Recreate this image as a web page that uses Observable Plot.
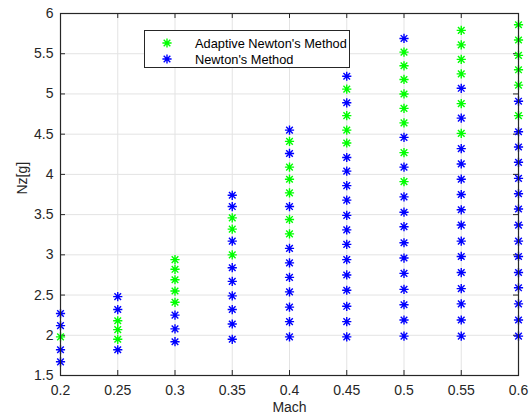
<!DOCTYPE html>
<html>
<head>
<meta charset="utf-8">
<script src="https://cdn.jsdelivr.net/npm/d3@7"></script>
<script src="https://cdn.jsdelivr.net/npm/@observablehq/plot@0.6"></script>
<style>
  html, body { margin: 0; padding: 0; background: #fff; }
  #chart { position: relative; width: 531px; height: 418px; font-family: "Liberation Sans", Arial, Helvetica, sans-serif; }
  #legend { position: absolute; left: 144px; top: 30px; width: 204px; height: 36px; background: #fff; border: 1px solid #262626; font-size: 12.8px; color: #000; }
  #legend .row { position: absolute; left: 0; height: 16px; display: flex; align-items: center; }
  #legend svg { margin-left: 16px; margin-right: 22px; }
</style>
</head>
<body>
<div id="chart">
  <div id="legend"></div>
</div>
<script>
// Mach numbers of the trim sweep
const mach = [0.2, 0.25, 0.3, 0.35, 0.4, 0.45, 0.5, 0.55, 0.6];

// Load factors (Nz, in g) solved by the adaptive Newton scheme, per Mach
const adaptiveNz = [
  [1.98],
  [2.18, 2.07, 1.95],
  [2.94, 2.82, 2.69, 2.55, 2.41],
  [3.46, 3.32, 3.00],
  [4.41, 4.09, 3.94, 3.77, 3.44, 3.26],
  [5.06, 4.73, 4.55, 4.39],
  [5.52, 5.35, 5.18, 5.00, 4.82, 4.64, 4.27, 3.91],
  [5.79, 5.61, 5.43, 5.25, 4.88, 4.51],
  [5.86, 5.67, 5.48, 5.30, 5.11, 4.73]
];

// Load factors solved by the plain Newton scheme, per Mach
const newtonNz = [
  [2.27, 2.12, 1.82, 1.67],
  [2.48, 2.32, 1.82],
  [2.25, 2.08, 1.92],
  [3.74, 3.60, 3.17, 2.84, 2.67, 2.49, 2.32, 2.14, 1.95],
  [4.55, 4.26, 3.60, 3.08, 2.90, 2.72, 2.54, 2.35, 2.17, 1.98],
  [5.22, 4.89, 4.21, 4.04, 3.86, 3.68, 3.49, 3.31, 3.13, 2.94, 2.75, 2.56, 2.36, 2.17, 1.98],
  [5.69, 4.46, 4.09, 3.72, 3.53, 3.35, 3.15, 2.96, 2.77, 2.57, 2.38, 2.19, 1.99],
  [5.07, 4.70, 4.32, 4.13, 3.94, 3.75, 3.56, 3.37, 3.17, 2.98, 2.78, 2.58, 2.39, 2.19, 1.99],
  [4.91, 4.53, 4.34, 4.15, 3.95, 3.76, 3.57, 3.37, 3.17, 2.98, 2.78, 2.59, 2.39, 2.19, 1.99]
];

const xTicks = [0.2, 0.25, 0.3, 0.35, 0.4, 0.45, 0.5, 0.55, 0.6];
const yTicks = [1.5, 2, 2.5, 3, 3.5, 4, 4.5, 5, 5.5, 6];

const seriesNames = ["Adaptive Newton's Method", "Newton's Method"];
const seriesColors = ["#00ff00", "#0000ff"];

const flatten = (cols) => cols.flatMap((vals, i) => vals.map((nz) => ({mach: mach[i], nz})));
const adaptivePts = flatten(adaptiveNz);
const newtonPts = flatten(newtonNz);

// Eight-armed asterisk marker
const asterisk = {
  draw(ctx, size) {
    const r = Math.sqrt(size / Math.PI);
    const d = r * 0.72;
    ctx.moveTo(-r, 0); ctx.lineTo(r, 0);
    ctx.moveTo(0, -r); ctx.lineTo(0, r);
    ctx.moveTo(-d, -d); ctx.lineTo(d, d);
    ctx.moveTo(-d, d); ctx.lineTo(d, -d);
  }
};

const W = 531, H = 418;
const mL = 60, mR = 13, mT = 13, mB = 43;
const plotW = W - mL - mR, plotH = H - mT - mB;
const tickLen = 5;
const ink = "#262626";
const markR = 4.6, markW = 1.4;
const fmt = (d) => String(+d.toFixed(2));

const chart = Plot.plot({
  width: W,
  height: H,
  marginLeft: mL,
  marginRight: mR,
  marginTop: mT,
  marginBottom: mB,
  style: {fontFamily: "'Liberation Sans', Arial, Helvetica, sans-serif", background: "#fff", color: ink},
  x: {domain: [0.2, 0.6]},
  y: {domain: [1.5, 6]},
  marks: [
    Plot.gridX(xTicks, {stroke: "#e3e3e3", strokeOpacity: 1}),
    Plot.gridY(yTicks, {stroke: "#e3e3e3", strokeOpacity: 1}),
    // inward ticks on all four sides
    Plot.tickX(xTicks, {x: (d) => d, stroke: ink, insetTop: plotH - tickLen}),
    Plot.tickX(xTicks, {x: (d) => d, stroke: ink, insetBottom: plotH - tickLen}),
    Plot.tickY(yTicks, {y: (d) => d, stroke: ink, insetRight: plotW - tickLen}),
    Plot.tickY(yTicks, {y: (d) => d, stroke: ink, insetLeft: plotW - tickLen}),
    Plot.axisX(xTicks, {tickSize: 0, tickPadding: 10, tickFormat: fmt, fontSize: 14, fill: ink, label: null}),
    Plot.axisY(yTicks, {tickSize: 0, tickPadding: 7, tickFormat: fmt, fontSize: 14, fill: ink, label: null}),
    Plot.text(["Mach"], {frameAnchor: "bottom", dy: 36, fontSize: 14, fill: ink}),
    Plot.text(["Nz[g]"], {frameAnchor: "left", dx: -38, rotate: -90, fontSize: 14, fill: ink}),
    Plot.dot(newtonPts, {x: "mach", y: "nz", symbol: asterisk, r: markR, stroke: seriesColors[1], strokeWidth: markW, fill: "none"}),
    Plot.dot(adaptivePts, {x: "mach", y: "nz", symbol: asterisk, r: markR, stroke: seriesColors[0], strokeWidth: markW, fill: "none"}),
    Plot.frame({stroke: ink, strokeWidth: 1.2})
  ]
});

const host = document.getElementById("chart");
host.insertBefore(chart, host.firstChild);

// Legend entries
const legend = document.getElementById("legend");
const starPath = (() => {
  const p = d3.path();
  asterisk.draw(p, Math.PI * markR * markR);
  return p.toString();
})();
seriesNames.forEach((name, i) => {
  const row = document.createElement("div");
  row.className = "row";
  row.style.top = (4 + i * 16) + "px";
  row.innerHTML = `<svg width="12" height="12" viewBox="-6 -6 12 12"><path d="${starPath}" stroke="${seriesColors[i]}" stroke-width="${markW}" fill="none"/></svg><span>${name}</span>`;
  legend.appendChild(row);
});
</script>
</body>
</html>
